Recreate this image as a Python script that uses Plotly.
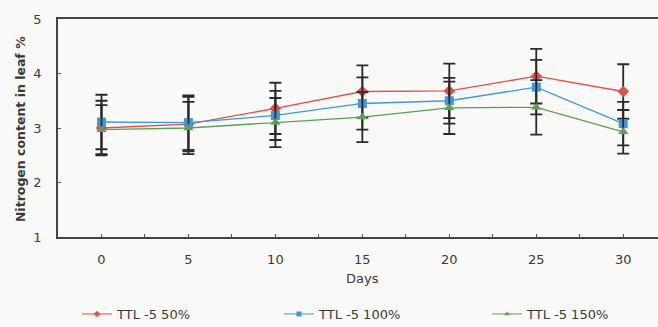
import plotly.graph_objects as go

# Sampling days (categories on the x axis)
days = ["0", "5", "10", "15", "20", "25", "30"]

# Mean nitrogen content in leaf (%) per treatment
n_50 = [3.00, 3.07, 3.36, 3.67, 3.68, 3.95, 3.67]
n_100 = [3.11, 3.10, 3.23, 3.45, 3.50, 3.75, 3.08]
n_150 = [2.97, 3.00, 3.10, 3.20, 3.37, 3.38, 2.93]

# Error-bar half widths
err_50 = [0.50, 0.50, 0.47, 0.48, 0.50, 0.50, 0.50]
err_100 = [0.50, 0.50, 0.45, 0.48, 0.42, 0.50, 0.40]
err_150 = [0.45, 0.48, 0.45, 0.46, 0.48, 0.50, 0.40]

series = [
    ("TTL -5 50%", n_50, err_50, "#e0504a", "diamond", "legend"),
    ("TTL -5 100%", n_100, err_100, "#3e9ad6", "square", "legend2"),
    ("TTL -5 150%", n_150, err_150, "#5f9e56", "triangle-up", "legend3"),
]

xpos = list(range(len(days)))

fig = go.Figure()
for name, vals, errs, color, sym, leg in series:
    fig.add_trace(go.Scatter(
        x=xpos, y=vals, name=name, mode="lines+markers", showlegend=False,
        line=dict(color=color, width=1.3),
        marker=dict(color=color, symbol=sym, size=9),
        error_y=dict(type="data", array=errs, visible=True,
                     color="#2a2a2a", thickness=1.8, width=6),
    ))
    # legend key with a thinner line and a small marker
    fig.add_trace(go.Scatter(
        x=[None], y=[None], name=name, mode="lines+markers", legend=leg,
        line=dict(color=color, width=1),
        marker=dict(color=color, symbol=sym, size=5),
    ))

# category ticks at centres, small marks at the halves too
tickvals = []
ticktext = []
for i, d in enumerate(days):
    tickvals += [i - 0.5, i]
    ticktext += ["", d]

FONT = "DejaVu Sans, Verdana, sans-serif"
TXT = "#3a3a3a"
axis_font = dict(family=FONT, size=13, color=TXT)


def legend_box(x_px):
    return dict(orientation="h", xref="container", yref="container",
                x=x_px / 658, y=1 - 314 / 327, xanchor="left", yanchor="middle",
                font=dict(family=FONT, size=13, color=TXT),
                bgcolor="rgba(0,0,0,0)")


fig.update_layout(
    width=658, height=327,
    margin=dict(l=58, r=0, t=19, b=90, autoexpand=False),
    paper_bgcolor="#f9f9f7", plot_bgcolor="#f9f9f7",
    showlegend=True,
    legend=legend_box(77),
    legend2=legend_box(279),
    legend3=legend_box(487),
    xaxis=dict(range=[-0.5, 6.4], tickvals=tickvals, ticktext=ticktext,
               ticks="inside", ticklen=3, tickcolor="#555",
               showline=True, linecolor="#444", linewidth=1.5, mirror=True,
               showgrid=False, zeroline=False, tickfont=axis_font,
               ticklabelstandoff=10),
    yaxis=dict(range=[1, 5], dtick=1, ticks="inside", ticklen=3, tickcolor="#555",
               showline=True, linecolor="#444", linewidth=1.5,
               showgrid=False, zeroline=False, tickfont=axis_font,
               ticklabelstandoff=12),
    annotations=[
        dict(text="Days", xref="paper", yref="paper", x=(362 - 58) / 600, y=0,
             yanchor="middle", yshift=-41, showarrow=False,
             font=dict(family=FONT, size=13, color=TXT)),
        dict(text="<b>Nitrogen content in leaf %</b>", xref="paper", yref="paper",
             x=0, xanchor="center", xshift=-38, y=0.495, textangle=-90, showarrow=False,
             font=dict(family=FONT, size=12.5, color=TXT)),
    ],
)

fig.write_html("out.html")
